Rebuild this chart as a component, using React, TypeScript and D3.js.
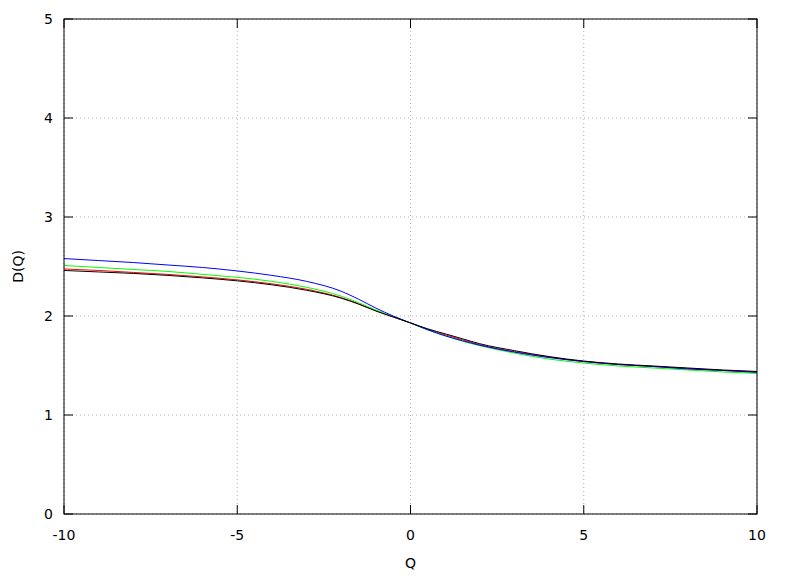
import React from "react";
import * as d3 from "d3";

const qValues = [-10, -9, -8, -7, -6, -5, -4, -3, -2, -1.5, -1, -0.5, 0, 0.5, 1, 1.5, 2, 3, 4, 5, 6, 7, 8, 9, 10];
const redSeries = [2.475, 2.46, 2.44, 2.42, 2.395, 2.365, 2.325, 2.27, 2.185, 2.125, 2.055, 1.99, 1.93, 1.865, 1.81, 1.76, 1.71, 1.64, 1.585, 1.54, 1.51, 1.49, 1.47, 1.45, 1.435];
const greenSeries = [2.51, 2.49, 2.47, 2.45, 2.42, 2.39, 2.35, 2.29, 2.2, 2.135, 2.06, 1.995, 1.93, 1.86, 1.8, 1.745, 1.7, 1.625, 1.565, 1.525, 1.495, 1.475, 1.455, 1.435, 1.42];
const blueSeries = [2.58, 2.56, 2.54, 2.515, 2.49, 2.455, 2.41, 2.35, 2.25, 2.17, 2.08, 2.0, 1.93, 1.86, 1.8, 1.75, 1.705, 1.635, 1.58, 1.54, 1.51, 1.49, 1.465, 1.45, 1.43];
const blackSeries = [2.46, 2.445, 2.43, 2.41, 2.385, 2.355, 2.315, 2.26, 2.18, 2.12, 2.05, 1.99, 1.93, 1.87, 1.82, 1.77, 1.72, 1.65, 1.59, 1.545, 1.515, 1.495, 1.475, 1.455, 1.44];
const seriesColors = ["#ff0000", "#00ff00", "#0000ff", "#000000"];
const xTicks = [-10, -5, 0, 5, 10];
const yTicks = [0, 1, 2, 3, 4, 5];

export default function App() {
  const W = 788, H = 576;
  const left = 64, right = 757, top = 19, bottom = 514;
  const x = d3.scaleLinear().domain([-10, 10]).range([left, right]);
  const y = d3.scaleLinear().domain([0, 5]).range([bottom, top]);
  const line = d3
    .line<number>()
    .x((_, i) => x(qValues[i]))
    .y((d) => y(d))
    .curve(d3.curveMonotoneX);
  const all = [redSeries, greenSeries, blueSeries, blackSeries];
  const font = "'DejaVu Sans', sans-serif";
  const tl = 9;
  return (
    <svg width={W} height={H} style={{ position: "absolute", left: 0, top: 0 }}>
      <rect x={0} y={0} width={W} height={H} fill="#fff" />
      {xTicks.map((t) => (
        <line key={"gx" + t} x1={x(t)} x2={x(t)} y1={top} y2={bottom} stroke="#b0b0b0" strokeWidth={1} strokeDasharray="1,3" />
      ))}
      {yTicks.map((t) => (
        <line key={"gy" + t} x1={left} x2={right} y1={y(t)} y2={y(t)} stroke="#b0b0b0" strokeWidth={1} strokeDasharray="1,3" />
      ))}
      {all.map((s, i) => (
        <path key={"s" + i} d={line(s) || ""} fill="none" stroke={seriesColors[i]} strokeWidth={1} />
      ))}
      {xTicks.map((t) => (
        <g key={"tx" + t}>
          <line x1={x(t)} x2={x(t)} y1={bottom} y2={bottom - tl} stroke="#000" />
          <line x1={x(t)} x2={x(t)} y1={top} y2={top + tl} stroke="#000" />
          <text x={x(t)} y={540} textAnchor="middle" fontFamily={font} fontSize={14}>{t}</text>
        </g>
      ))}
      {yTicks.map((t) => (
        <g key={"ty" + t}>
          <line x1={left} x2={left + tl} y1={y(t)} y2={y(t)} stroke="#000" />
          <line x1={right} x2={right - tl} y1={y(t)} y2={y(t)} stroke="#000" />
          <text x={53} y={y(t) + 5} textAnchor="end" fontFamily={font} fontSize={14}>{t}</text>
        </g>
      ))}
      <rect x={left} y={top} width={right - left} height={bottom - top} fill="none" stroke="#000" strokeWidth={1} />
      <text x={(left + right) / 2} y={568} textAnchor="middle" fontFamily={font} fontSize={14}>Q</text>
      <text transform={`translate(23,${(top + bottom) / 2}) rotate(-90)`} textAnchor="middle" fontFamily={font} fontSize={14}>D(Q)</text>
    </svg>
  );
}
